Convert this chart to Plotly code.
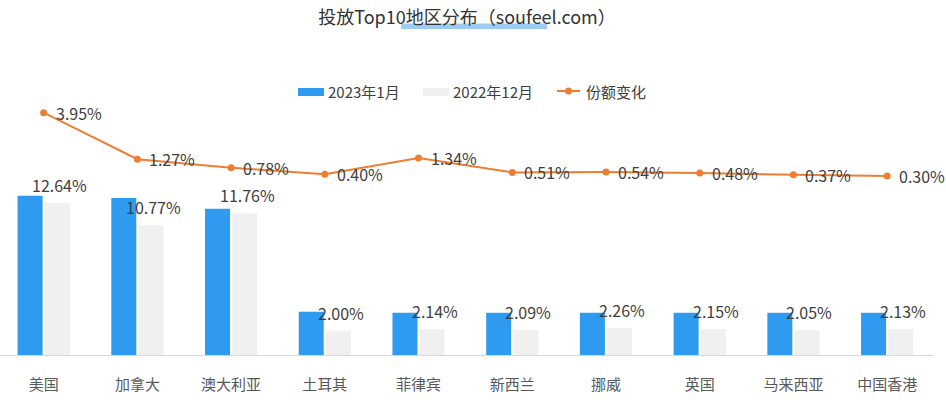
import plotly.graph_objects as go

categories = ["美国", "加拿大", "澳大利亚", "土耳其", "菲律宾", "新西兰", "挪威", "英国", "马来西亚", "中国香港"]
jan_2023 = [13.22, 13.03, 12.14, 3.59, 3.51, 3.51, 3.51, 3.51, 3.51, 3.51]
dec_2022 = [12.64, 10.77, 11.76, 2.00, 2.14, 2.09, 2.26, 2.15, 2.05, 2.13]
share_change = [3.95, 1.27, 0.78, 0.40, 1.34, 0.51, 0.54, 0.48, 0.37, 0.30]

BLUE, GREY, ORANGE = "#2E9BF0", "#F0F0F0", "#ED7D31"

W, H = 946, 402
# plot area in pixels
PL, PR, PT, PB = 0, 934, 112, 355
FONT = "Noto Sans CJK SC"
TXT = "#404040"


def px_x(x):
    return (x - PL) / (PR - PL)


def px_y(y):
    return (PB - y) / (PB - PT)


fig = go.Figure()

fig.add_trace(go.Bar(
    x=categories, y=jan_2023, name="2023年1月",
    marker=dict(color=BLUE, line=dict(width=0)),
))
fig.add_trace(go.Bar(
    x=categories, y=dec_2022, name="2022年12月",
    marker=dict(color=GREY, line=dict(width=0)),
))
fig.add_trace(go.Scatter(
    x=categories, y=share_change, name="份额变化", yaxis="y2",
    mode="lines+markers",
    line=dict(color=ORANGE, width=2),
    marker=dict(color=ORANGE, size=7),
    cliponaxis=False,
))

annotations = []
# labels above the grey bars
for i, v in enumerate(dec_2022):
    annotations.append(dict(
        x=i, y=v, xref="x", yref="y", text=f"{v:.2f}%", showarrow=False,
        xanchor="center", yanchor="middle", xshift=16, yshift=18,
        font=dict(size=16, color=TXT, family=FONT),
    ))
# labels next to line points
for i, v in enumerate(share_change):
    annotations.append(dict(
        x=i, y=v, xref="x", yref="y2", text=f"{v:.2f}%", showarrow=False,
        xanchor="left", yanchor="middle", xshift=10,
        font=dict(size=16, color=TXT, family=FONT),
    ))

# hand-drawn legend (wide flat swatches like the original)
LEG_Y = 91
shapes = [dict(
    type="rect", xref="paper", yref="paper",
    x0=px_x(401), x1=px_x(547), y0=px_y(29), y1=px_y(23.5),
    fillcolor="rgba(90,170,235,0.6)", line=dict(width=0), layer="below",
)]
for x0, col in [(298, BLUE), (423, GREY)]:
    shapes.append(dict(
        type="rect", xref="paper", yref="paper",
        x0=px_x(x0), x1=px_x(x0 + 26), y0=px_y(LEG_Y + 5), y1=px_y(LEG_Y - 3),
        fillcolor=col, line=dict(width=0),
    ))
shapes.append(dict(
    type="line", xref="paper", yref="paper",
    x0=px_x(557), x1=px_x(580), y0=px_y(LEG_Y), y1=px_y(LEG_Y),
    line=dict(color=ORANGE, width=2),
))
shapes.append(dict(
    type="circle", xref="paper", yref="paper",
    x0=px_x(565), x1=px_x(572), y0=px_y(LEG_Y + 3.5), y1=px_y(LEG_Y - 3.5),
    fillcolor=ORANGE, line=dict(width=0),
))
for x0, name in [(326, "2023年1月"), (451, "2022年12月"), (584, "份额变化")]:
    annotations.append(dict(
        x=px_x(x0), y=px_y(LEG_Y), xref="paper", yref="paper", text=name,
        showarrow=False, xanchor="left", yanchor="middle",
        font=dict(size=15, color=TXT, family=FONT),
    ))

fig.update_layout(
    width=W, height=H,
    margin=dict(l=PL, r=W - PR, t=PT, b=H - PB, pad=0),
    paper_bgcolor="white", plot_bgcolor="white",
    font=dict(family=FONT, color=TXT),
    title=dict(
        text="投放Top10地区分布（soufeel.com）",
        x=467 / W, xanchor="center", xref="container",
        y=1 - 18 / H, yanchor="middle", yref="container",
        font=dict(size=18, color="#333333", family=FONT),
    ),
    barmode="group", bargap=0.42, bargroupgap=0.08,
    showlegend=False,
    xaxis=dict(
        range=[-0.466, 9.5], showgrid=False, zeroline=False,
        showline=True, linecolor="#D9D9D9", linewidth=1,
        ticks="", ticklabelstandoff=16,
        tickfont=dict(size=15, color="#595959", family=FONT),
    ),
    yaxis=dict(
        range=[0, (PB - PT) / 12.05], showgrid=False, zeroline=False,
        showticklabels=False, showline=False,
    ),
    yaxis2=dict(
        range=[-10, -10 + (PB - PT) / 17.37], overlaying="y", side="right",
        showgrid=False, zeroline=False, showticklabels=False, showline=False,
    ),
    annotations=annotations,
    shapes=shapes,
)

# the page's default body margin would push the chart 8px right and down
fig.write_html("out.html", config={"displayModeBar": False},
               post_script="document.body.style.margin='0';")
